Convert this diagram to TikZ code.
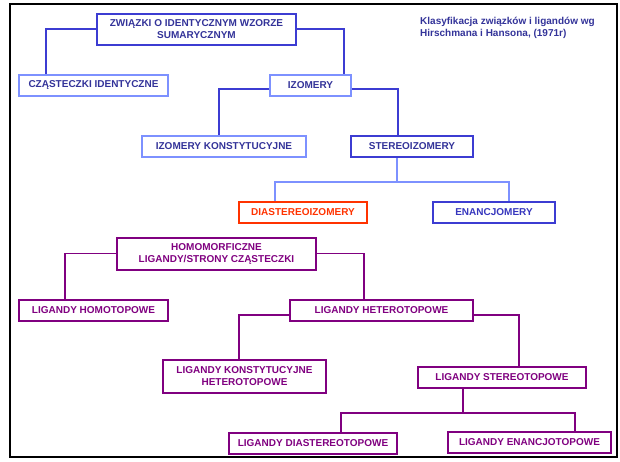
\documentclass[tikz,border=0pt]{standalone}
\usepackage{fontspec}
\setmainfont{Liberation Sans}
\definecolor{dblue}{RGB}{60,60,210}
\definecolor{lblue}{RGB}{125,145,255}
\definecolor{tblue}{RGB}{51,51,153}
\definecolor{eblue}{RGB}{55,55,190}
\definecolor{redo}{RGB}{255,51,0}
\definecolor{purp}{RGB}{128,0,128}
\begin{document}
\begin{tikzpicture}[x=1pt,y=-1pt,
  box/.style={draw, line width=2pt, fill=white, inner sep=0pt, align=center,
    font=\fontsize{10}{12}\selectfont\bfseries},
  bbox/.style={box, draw=dblue, text=tblue},
  lbox/.style={box, draw=lblue, text=tblue},
  rbox/.style={box, draw=redo, text=redo},
  pbox/.style={box, draw=purp, text=purp},
  dconn/.style={draw=dblue, line width=1.8pt},
  lconn/.style={draw=lblue, line width=1.8pt},
  pconn/.style={draw=purp, line width=1.8pt},
]
\useasboundingbox (0,0) rectangle (620,461);
\draw[line width=2.5pt, black] (10,4) rectangle (617,457);

% title
\node[align=left, anchor=north west, inner sep=0pt, text=tblue,
  font=\fontsize{10}{12}\selectfont\bfseries] (title) at (420,17)
  {Klasyfikacja związków i ligandów wg\\Hirschmana i Hansona, (1971r)};

% blue tree
\node[bbox, minimum width=199, minimum height=31] (b1) at (196.5,29.5) {ZWIĄZKI O IDENTYCZNYM WZORZE\\SUMARYCZNYM};
\node[lbox, minimum width=149, minimum height=21] (cz) at (93.5,85) {CZĄSTECZKI IDENTYCZNE};
\node[lbox, minimum width=81, minimum height=21] (izo) at (310.5,85) {IZOMERY};
\node[lbox, minimum width=164, minimum height=21] (izk) at (224,146) {IZOMERY KONSTYTUCYJNE};
\node[bbox, minimum width=122, minimum height=21] (ster) at (412,146.5) {STEREOIZOMERY};
\node[rbox, minimum width=128, minimum height=21] (dia) at (303,212.5) {DIASTEREOIZOMERY};
\node[bbox, text=eblue, minimum width=122, minimum height=21] (ena) at (494,212) {ENANCJOMERY};

\coordinate (j1) at (46,29);
\coordinate (j2) at (344,29);
\coordinate (j3) at (219,89);
\coordinate (j4) at (398,89);
\coordinate (j5) at (397,182);
\coordinate (j6) at (275,182);
\coordinate (j7) at (509,182);

\begin{scope}[on background layer/.style={}]
\draw[dconn] (j1 -| b1.west) -- (j1) -- (j1 |- cz.north);
\draw[dconn] (j2 -| b1.east) -- (j2) -- (j2 |- izo.north);
\draw[dconn] (j3 -| izo.west) -- (j3) -- (j3 |- izk.north);
\draw[dconn] (j4 -| izo.east) -- (j4) -- (j4 |- ster.north);
\draw[lconn] (j5 |- ster.south) -- (j5);
\draw[lconn] (j6 |- dia.north) -- (j6) -- (j7) -- (j7 |- ena.north);
\end{scope}

% purple tree
\node[pbox, minimum width=199, minimum height=32] (hom) at (216.5,254) {HOMOMORFICZNE\\LIGANDY/STRONY CZĄSTECZKI};
\node[pbox, minimum width=149, minimum height=21] (lhom) at (93.5,310) {LIGANDY HOMOTOPOWE};
\node[pbox, minimum width=183, minimum height=21] (lhet) at (381.5,310) {LIGANDY HETEROTOPOWE};
\node[pbox, minimum width=163, minimum height=33] (lkon) at (244.5,376.5) {LIGANDY KONSTYTUCYJNE\\HETEROTOPOWE};
\node[pbox, minimum width=168, minimum height=21] (lster) at (502,377.5) {LIGANDY STEREOTOPOWE};
\node[pbox, minimum width=168, minimum height=21] (ldia) at (313,443.5) {LIGANDY DIASTEREOTOPOWE};
\node[pbox, minimum width=163, minimum height=21] (lena) at (529.5,442.5) {LIGANDY ENANCJOTOPOWE};

\coordinate (k1) at (65,253.5);
\coordinate (k2) at (364,253.5);
\coordinate (k3) at (239,315);
\coordinate (k4) at (519,315);
\coordinate (k5) at (463,413);
\coordinate (k6) at (341,413);
\coordinate (k7) at (575,413);

\draw[pconn] (k1 -| hom.west) -- (k1) -- (k1 |- lhom.north);
\draw[pconn] (k2 -| hom.east) -- (k2) -- (k2 |- lhet.north);
\draw[pconn] (k3 -| lhet.west) -- (k3) -- (k3 |- lkon.north);
\draw[pconn] (k4 -| lhet.east) -- (k4) -- (k4 |- lster.north);
\draw[pconn] (k5 |- lster.south) -- (k5);
\draw[pconn] (k6 |- ldia.north) -- (k6) -- (k7) -- (k7 |- lena.north);
\end{tikzpicture}
\end{document}
